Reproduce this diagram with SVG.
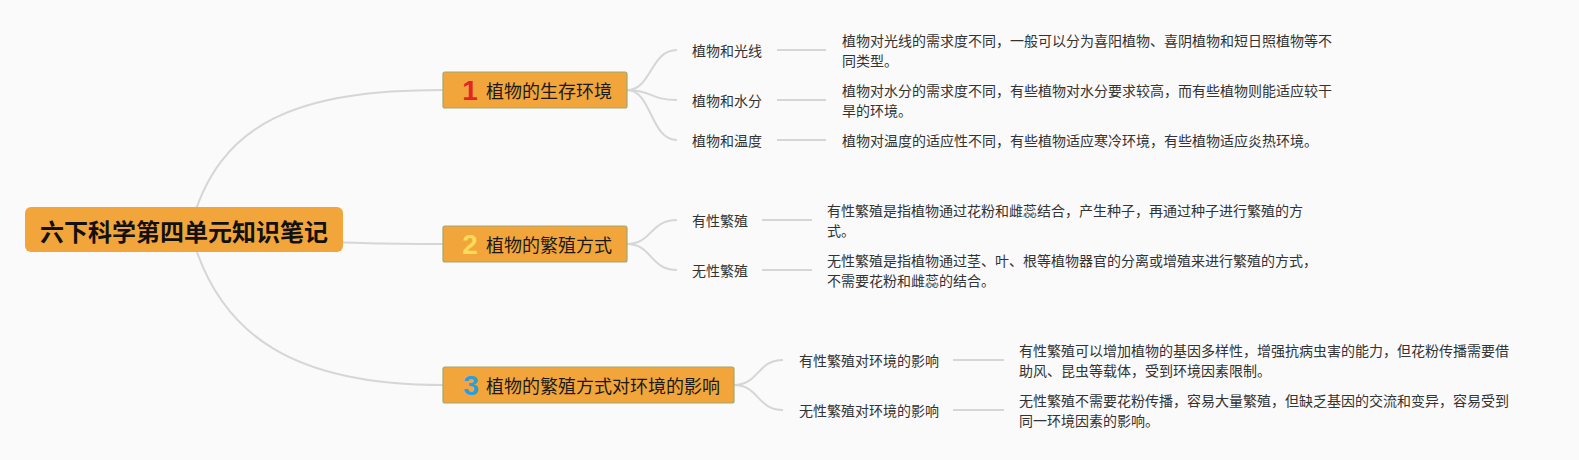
<svg xmlns="http://www.w3.org/2000/svg" width="1579" height="460" viewBox="0 0 1579 460">
<style>
.bg{fill:#fafafa}
.conn{fill:none;stroke:#d6d6d6;stroke-width:2}
.root-box{fill:#f2a53a}
.root-txt{font-family:"Noto Sans CJK SC","Noto Sans",sans-serif;font-size:24px;font-weight:bold;fill:#111}
.br-box{fill:#f2a53a;stroke:#a0a870;stroke-width:1.2}
.br-txt{font-family:"Noto Sans CJK SC","Noto Sans",sans-serif;font-size:18px;fill:#1a1a1a}
.num{font-family:"Liberation Sans","DejaVu Sans",sans-serif;font-size:28px;font-weight:bold}
.leaf{font-family:"Noto Sans CJK SC","Noto Sans",sans-serif;font-size:14px;fill:#333}
.desc{font-family:"Noto Sans CJK SC","Noto Sans",sans-serif;font-size:14px;fill:#333}
</style>
<rect class="bg" x="0" y="0" width="1579" height="460"/>
<g id="connectors">
  <path class="conn" d="M190 229 C218 120 300 90 443 90"/>
  <path class="conn" d="M190 236 C300 242 380 244 443 244"/>
  <path class="conn" d="M190 229 C218 340 300 385 443 385"/>
  <path class="conn" d="M627 90 C652 90 650 50 677 50"/>
  <path class="conn" d="M627 90 C652 90 650 100 677 100"/>
  <path class="conn" d="M627 90 C652 90 650 140 677 140"/>
  <path class="conn" d="M777 50 L826 50"/>
  <path class="conn" d="M777 100 L826 100"/>
  <path class="conn" d="M777 140 L826 140"/>
  <path class="conn" d="M627 244 C652 244 650 220 677 220"/>
  <path class="conn" d="M627 244 C652 244 650 270 677 270"/>
  <path class="conn" d="M762 220 L812 220"/>
  <path class="conn" d="M762 270 L812 270"/>
  <path class="conn" d="M734 385 C759 385 757 360 783 360"/>
  <path class="conn" d="M734 385 C759 385 757 410 783 410"/>
  <path class="conn" d="M953 360 L1004 360"/>
  <path class="conn" d="M953 410 L1004 410"/>
</g>
<g id="root">
  <rect class="root-box" x="25" y="207" width="318" height="45" rx="6"/>
  <text class="root-txt" x="184" y="230" text-anchor="middle" dominant-baseline="central">六下科学第四单元知识笔记</text>
</g>
<g id="branch1">
  <rect class="br-box" x="443" y="72" width="184" height="36" rx="2"/>
  <text class="num" x="470" y="90" text-anchor="middle" dominant-baseline="central" fill="#e3242b">1</text>
  <text class="br-txt" x="486" y="90" dominant-baseline="central">植物的生存环境</text>
</g>
<g id="branch2">
  <rect class="br-box" x="443" y="226" width="184" height="36" rx="2"/>
  <text class="num" x="470" y="244" text-anchor="middle" dominant-baseline="central" fill="#f8dc5a">2</text>
  <text class="br-txt" x="486" y="244" dominant-baseline="central">植物的繁殖方式</text>
</g>
<g id="branch3">
  <rect class="br-box" x="443" y="367" width="291" height="36" rx="2"/>
  <text class="num" x="471" y="385" text-anchor="middle" dominant-baseline="central" fill="#2d9ddf">3</text>
  <text class="br-txt" x="486" y="385" dominant-baseline="central">植物的繁殖方式对环境的影响</text>
</g>
<g id="leaf-light">
  <text class="leaf" x="692" y="50" dominant-baseline="central">植物和光线</text>
</g>
<g id="desc-light">
  <text class="desc" x="842" y="40" dominant-baseline="central">植物对光线的需求度不同，一般可以分为喜阳植物、喜阴植物和短日照植物等不</text>
  <text class="desc" x="842" y="60" dominant-baseline="central">同类型。</text>
</g>
<g id="leaf-water">
  <text class="leaf" x="692" y="100" dominant-baseline="central">植物和水分</text>
</g>
<g id="desc-water">
  <text class="desc" x="842" y="90" dominant-baseline="central">植物对水分的需求度不同，有些植物对水分要求较高，而有些植物则能适应较干</text>
  <text class="desc" x="842" y="110" dominant-baseline="central">旱的环境。</text>
</g>
<g id="leaf-temp">
  <text class="leaf" x="692" y="140" dominant-baseline="central">植物和温度</text>
</g>
<g id="desc-temp">
  <text class="desc" x="842" y="140" dominant-baseline="central">植物对温度的适应性不同，有些植物适应寒冷环境，有些植物适应炎热环境。</text>
</g>
<g id="leaf-sexual">
  <text class="leaf" x="692" y="220" dominant-baseline="central">有性繁殖</text>
</g>
<g id="desc-sexual">
  <text class="desc" x="827" y="210" dominant-baseline="central">有性繁殖是指植物通过花粉和雌蕊结合，产生种子，再通过种子进行繁殖的方</text>
  <text class="desc" x="827" y="230" dominant-baseline="central">式。</text>
</g>
<g id="leaf-asexual">
  <text class="leaf" x="692" y="270" dominant-baseline="central">无性繁殖</text>
</g>
<g id="desc-asexual">
  <text class="desc" x="827" y="260" dominant-baseline="central">无性繁殖是指植物通过茎、叶、根等植物器官的分离或增殖来进行繁殖的方式，</text>
  <text class="desc" x="827" y="280" dominant-baseline="central">不需要花粉和雌蕊的结合。</text>
</g>
<g id="leaf-sexual-env">
  <text class="leaf" x="799" y="360" dominant-baseline="central">有性繁殖对环境的影响</text>
</g>
<g id="desc-sexual-env">
  <text class="desc" x="1019" y="350" dominant-baseline="central">有性繁殖可以增加植物的基因多样性，增强抗病虫害的能力，但花粉传播需要借</text>
  <text class="desc" x="1019" y="370" dominant-baseline="central">助风、昆虫等载体，受到环境因素限制。</text>
</g>
<g id="leaf-asexual-env">
  <text class="leaf" x="799" y="410" dominant-baseline="central">无性繁殖对环境的影响</text>
</g>
<g id="desc-asexual-env">
  <text class="desc" x="1019" y="400" dominant-baseline="central">无性繁殖不需要花粉传播，容易大量繁殖，但缺乏基因的交流和变异，容易受到</text>
  <text class="desc" x="1019" y="420" dominant-baseline="central">同一环境因素的影响。</text>
</g>
</svg>
